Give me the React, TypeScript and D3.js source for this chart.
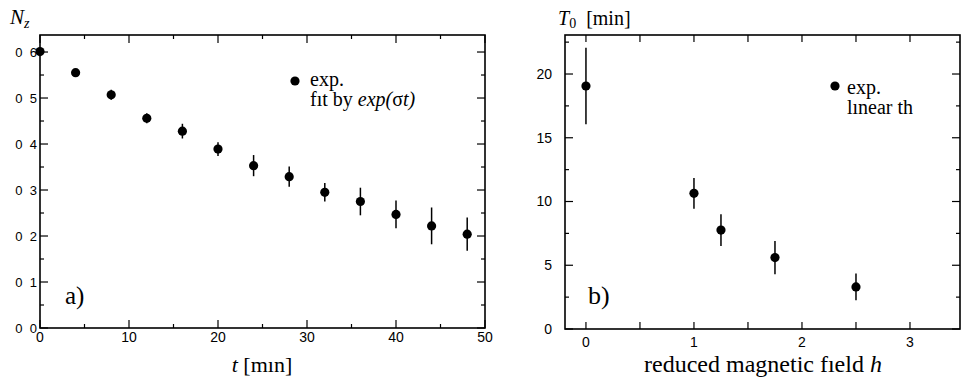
import React from 'react';
import * as d3 from 'd3';

// panel a: N_z vs t
const tMin = [0, 4, 8, 12, 16, 20, 24, 28, 32, 36, 40, 44, 48];
const nz = [0.601, 0.555, 0.507, 0.456, 0.428, 0.389, 0.353, 0.329, 0.295, 0.275, 0.247, 0.222, 0.204];
const nzErr = [0.005, 0.008, 0.011, 0.011, 0.016, 0.015, 0.023, 0.022, 0.02, 0.03, 0.03, 0.04, 0.036];
const aXTicks = [0, 10, 20, 30, 40, 50];
const aXMinor = [5, 15, 25, 35, 45];
const aYTicks = [0, 0.1, 0.2, 0.3, 0.4, 0.5, 0.6];
const aYLabels = ['0 0', '0 1', '0 2', '0 3', '0 4', '0 5', '0 6'];
const aYMinor = [0.05, 0.15, 0.25, 0.35, 0.45, 0.55];

// panel b: T0 vs reduced field h
const hField = [0, 1, 1.25, 1.75, 2.5];
const t0 = [19.06, 10.64, 7.76, 5.6, 3.3];
const t0Err = [3.0, 1.2, 1.25, 1.3, 1.05];
const bXTicks = [0, 1, 2, 3];
const bXMinor = [0.5, 1.5, 2.5];
const bYTicks = [0, 5, 10, 15, 20];
const bYMinor = [2.5, 7.5, 12.5, 17.5, 22.5];

const serif = { fontFamily: "'Liberation Serif', 'DejaVu Serif', serif" };
const sans = { fontFamily: "'Liberation Sans', Arial, sans-serif" };

const App: React.FC = () => {
  const xA = d3.scaleLinear().domain([0, 50]).range([40, 485]);
  const yA = d3.scaleLinear().domain([0, 0.637]).range([328, 35]);
  const xB = d3.scaleLinear().domain([-0.194, 3.463]).range([565, 960]);
  const yB = d3.scaleLinear().domain([0, 23.06]).range([329, 35]);

  const frame = (x: d3.ScaleLinear<number, number>, y: d3.ScaleLinear<number, number>) => {
    const [x0, x1] = x.range();
    const [y0, y1] = y.range();
    return <rect x={x0} y={y1} width={x1 - x0} height={y0 - y1} fill="none" stroke="#000" strokeWidth={1.6} />;
  };

  const xTickMarks = (x: d3.ScaleLinear<number, number>, y: d3.ScaleLinear<number, number>, vals: number[], len: number, key: string) => {
    const [yb, yt] = y.range();
    return vals.map(v => (
      <g key={`${key}-${v}`}>
        <line x1={x(v)} x2={x(v)} y1={yb} y2={yb - len} stroke="#000" strokeWidth={1.2} />
        <line x1={x(v)} x2={x(v)} y1={yt} y2={yt + len} stroke="#000" strokeWidth={1.2} />
      </g>
    ));
  };

  const yTickMarks = (x: d3.ScaleLinear<number, number>, y: d3.ScaleLinear<number, number>, vals: number[], len: number, key: string) => {
    const [xl, xr] = x.range();
    return vals.map(v => (
      <g key={`${key}-${v}`}>
        <line x1={xl} x2={xl + len} y1={y(v)} y2={y(v)} stroke="#000" strokeWidth={1.2} />
        <line x1={xr} x2={xr - len} y1={y(v)} y2={y(v)} stroke="#000" strokeWidth={1.2} />
      </g>
    ));
  };

  return (
    <svg width={962} height={380} style={{ position: 'absolute', left: 0, top: 0, background: '#fff' }}>
      {/* ---------- panel a ---------- */}
      {frame(xA, yA)}
      {xTickMarks(xA, yA, aXTicks, 8, 'axM')}
      {xTickMarks(xA, yA, aXMinor, 4, 'axm')}
      {yTickMarks(xA, yA, aYTicks, 8, 'ayM')}
      {yTickMarks(xA, yA, aYMinor, 4, 'aym')}
      {aXTicks.map(v => (
        <text key={`axl-${v}`} x={xA(v)} y={342} textAnchor="middle" style={sans} fontSize={14}>{v}</text>
      ))}
      {aYTicks.map((v, i) => (
        <text key={`ayl-${v}`} x={37} y={yA(v)} dy="0.35em" textAnchor="end" fontSize={13}
          style={{ ...sans, whiteSpace: 'pre' }}>{aYLabels[i].replace(' ', '  ')}</text>
      ))}
      {tMin.map((t, i) => (
        <g key={`pa-${t}`}>
          <line x1={xA(t)} x2={xA(t)} y1={yA(nz[i] - nzErr[i])} y2={yA(nz[i] + nzErr[i])} stroke="#000" strokeWidth={1.5} />
          <circle cx={xA(t)} cy={yA(nz[i])} r={4.6} fill="#000" />
        </g>
      ))}
      <text x={10} y={24} style={serif} fontSize={21} fontStyle="italic">
        N<tspan fontSize={14} dy={4}>z</tspan>
      </text>
      <text x={262} y={372} textAnchor="middle" fontSize={22} style={{ ...serif, whiteSpace: 'pre' }}>
        <tspan fontStyle="italic">t</tspan> [mın]
      </text>
      <text x={65} y={304} style={serif} fontSize={25}>a)</text>
      <circle cx={295} cy={81} r={4.6} fill="#000" />
      <text x={310} y={86} style={serif} fontSize={20}>exp.</text>
      <text x={310} y={106} style={serif} fontSize={20}>
        fıt by <tspan fontStyle="italic">exp(</tspan>σ<tspan fontStyle="italic">t)</tspan>
      </text>

      {/* ---------- panel b ---------- */}
      {frame(xB, yB)}
      {xTickMarks(xB, yB, bXTicks, 7, 'bxM')}
      {xTickMarks(xB, yB, bXMinor, 7, 'bxm')}
      {yTickMarks(xB, yB, bYTicks, 8, 'byM')}
      {yTickMarks(xB, yB, bYMinor, 4, 'bym')}
      {bXTicks.map(v => (
        <text key={`bxl-${v}`} x={xB(v)} y={347} textAnchor="middle" style={sans} fontSize={14}>{v}</text>
      ))}
      {bYTicks.map(v => (
        <text key={`byl-${v}`} x={552} y={yB(v)} dy="0.35em" textAnchor="end" style={sans} fontSize={14}>{v}</text>
      ))}
      {hField.map((h, i) => (
        <g key={`pb-${h}`}>
          <line x1={xB(h)} x2={xB(h)} y1={yB(t0[i] - t0Err[i])} y2={yB(t0[i] + t0Err[i])} stroke="#000" strokeWidth={1.5} />
          <circle cx={xB(h)} cy={yB(t0[i])} r={4.6} fill="#000" />
        </g>
      ))}
      <text x={558} y={25} fontSize={20} style={{ ...serif, whiteSpace: 'pre' }}>
        <tspan fontStyle="italic">T</tspan><tspan fontSize={14} dy={3}>0</tspan><tspan dy={-3}>  [min]</tspan>
      </text>
      <text x={763} y={372} textAnchor="middle" style={serif} fontSize={24}>
        reduced magnetic fıeld <tspan fontStyle="italic">h</tspan>
      </text>
      <text x={588} y={304} style={serif} fontSize={26}>b)</text>
      <circle cx={835} cy={86} r={4.6} fill="#000" />
      <text x={847} y={94} style={serif} fontSize={20}>exp.</text>
      <text x={847} y={114} style={serif} fontSize={20}>lınear th</text>
    </svg>
  );
};

export default App;
